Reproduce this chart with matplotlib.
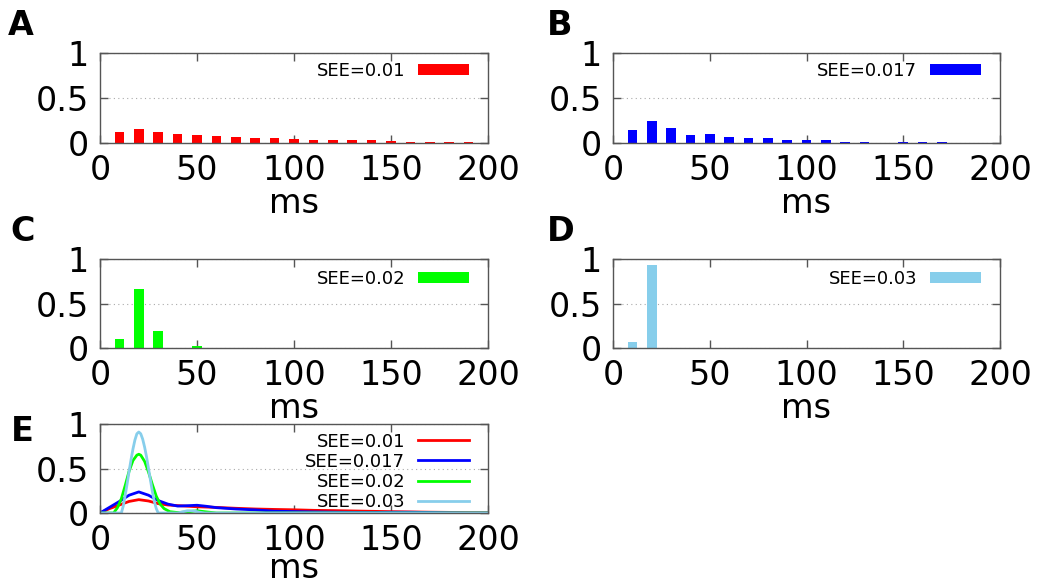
import matplotlib
matplotlib.use("Agg")
import matplotlib.pyplot as plt

# histogram bins (ms) and fractions for each SEE value
bins = [10, 20, 30, 40, 50, 60, 70, 80, 90, 100, 110, 120, 130, 140, 150, 160, 170, 180, 190]
see_001 = [0.122, 0.159, 0.122, 0.100, 0.089, 0.074, 0.063, 0.052, 0.052, 0.041,
           0.030, 0.030, 0.030, 0.030, 0.019, 0.015, 0.015, 0.015, 0.015]
see_0017 = [0.148, 0.244, 0.170, 0.089, 0.100, 0.063, 0.052, 0.052, 0.030, 0.030,
            0.030, 0.015, 0.015, 0.0, 0.015, 0.015, 0.015, 0.0, 0.0]
see_002 = [0.100, 0.660, 0.190, 0.0, 0.020, 0.0, 0.0, 0.0, 0.0, 0.0,
           0.0, 0.0, 0.0, 0.0, 0.0, 0.0, 0.0, 0.0, 0.0]
see_003 = [0.064, 0.930, 0.0, 0.0, 0.0, 0.0, 0.0, 0.0, 0.0, 0.0,
           0.0, 0.0, 0.0, 0.0, 0.0, 0.0, 0.0, 0.0, 0.0]

# smoothed curves for panel E
x_red = [0, 5, 10, 15, 20, 25, 30, 35, 40, 50, 60, 70, 80, 90, 100, 110, 120, 130, 140, 150, 160, 170, 180, 190, 200]
y_red = [0, 0.05, 0.09, 0.13, 0.15, 0.135, 0.105, 0.09, 0.083, 0.07, 0.063, 0.053, 0.045, 0.04, 0.036,
         0.03, 0.027, 0.023, 0.019, 0.015, 0.012, 0.009, 0.007, 0.005, 0.004]
x_blue = [0, 5, 10, 15, 20, 25, 30, 35, 40, 45, 50, 55, 60, 70, 80, 90, 100, 110, 120, 130, 140, 150, 160, 170, 180, 190, 200]
y_blue = [0, 0.065, 0.13, 0.2, 0.237, 0.2, 0.14, 0.1, 0.078, 0.082, 0.087, 0.075, 0.06, 0.045, 0.035,
          0.02, 0.016, 0.012, 0.009, 0.007, 0.006, 0.008, 0.008, 0.006, 0.002, 0.0, 0.0]
x_green = [0, 7, 9, 11, 13, 15, 17, 19, 20, 21, 23, 25, 27, 29, 31, 33, 36, 40, 45, 50, 55, 60, 200]
y_green = [0, 0, 0.06, 0.16, 0.31, 0.47, 0.59, 0.65, 0.66, 0.65, 0.58, 0.46, 0.32, 0.19, 0.1, 0.05,
           0.015, 0.005, 0.012, 0.025, 0.012, 0, 0]
x_sky = [0, 11, 12, 13, 14, 15, 16, 17, 18, 19, 20, 21, 22, 23, 24, 25, 26, 27, 28, 29, 30, 40, 42, 45, 48, 51, 54, 200]
y_sky = [0, 0, 0.08, 0.2, 0.33, 0.47, 0.6, 0.72, 0.82, 0.89, 0.91, 0.89, 0.83, 0.74, 0.63, 0.5, 0.37,
         0.24, 0.13, 0.05, 0, 0, 0.01, 0.025, 0.025, 0.01, 0, 0]

labels = ["SEE=0.01", "SEE=0.017", "SEE=0.02", "SEE=0.03"]
colors = ["#ff0000", "#0000ff", "#00ff00", "#87ceeb"]

W, H = 1043, 584
fig = plt.figure(figsize=(W / 100, H / 100), dpi=100)


def make_ax(left, top, right, bottom):
    ax = fig.add_axes([left / W, 1 - bottom / H, (right - left) / W, (bottom - top) / H])
    ax.set_xlim(0, 200)
    ax.set_ylim(0, 1)
    ax.set_xticks([0, 50, 100, 150, 200])
    ax.set_yticks([0, 0.5, 1])
    ax.set_yticklabels(["0", "0.5", "1"])
    ax.tick_params(direction="in", length=5.5, width=1, colors="#555555",
                   labelcolor="black", labelsize=24, pad=8,
                   top=True, right=True)
    for s in ax.spines.values():
        s.set_color("#555555")
        s.set_linewidth(1)
    ax.yaxis.grid(True, linestyle=(0, (1, 3)), color="#aaaaaa", linewidth=0.8)
    ax.set_axisbelow(True)
    ax.set_xlabel("ms", fontsize=24, labelpad=0)
    return ax


def bar_legend(ax, ypos):
    ax.legend(loc="center right", bbox_to_anchor=(1 - 19 / 388, ypos), frameon=False,
              markerfirst=False, fontsize=13, handlelength=2.82, handleheight=0.59,
              handletextpad=0.72, borderpad=0, borderaxespad=0)


axA = make_ax(100, 53, 488, 143)
axA.bar(bins, see_001, width=5, color=colors[0], label=labels[0])
bar_legend(axA, 0.8)

axB = make_ax(613, 53, 1000, 143)
axB.bar(bins, see_0017, width=5, color=colors[1], label=labels[1])
bar_legend(axB, 0.8)

axC = make_ax(100, 259, 488, 348)
axC.bar(bins, see_002, width=5, color=colors[2], label=labels[2])
bar_legend(axC, 0.78)

axD = make_ax(613, 259, 1000, 348)
axD.bar(bins, see_003, width=5, color=colors[3], label=labels[3])
bar_legend(axD, 0.78)

axE = make_ax(100, 424, 488, 513)
axE.plot(x_red, y_red, color=colors[0], lw=2, label=labels[0])
axE.plot(x_blue, y_blue, color=colors[1], lw=2, label=labels[1])
axE.plot(x_green, y_green, color=colors[2], lw=2, label=labels[2])
axE.plot(x_sky, y_sky, color=colors[3], lw=2, label=labels[3])
axE.legend(loc="center right", bbox_to_anchor=(1 - 19 / 388, 0.462), frameon=False,
           markerfirst=False, fontsize=13, handlelength=2.82, handletextpad=0.72,
           borderpad=0, borderaxespad=0, labelspacing=0.12)
axE.xaxis.labelpad = -4

# panel letters
for letter, px, py in [("A", 8, 35), ("B", 547, 35), ("C", 10, 241),
                       ("D", 547, 241), ("E", 11, 441)]:
    fig.text(px / W, 1 - py / H, letter, fontsize=24, fontweight="bold",
             va="baseline", ha="left")

fig.savefig("out.png", dpi=100)
